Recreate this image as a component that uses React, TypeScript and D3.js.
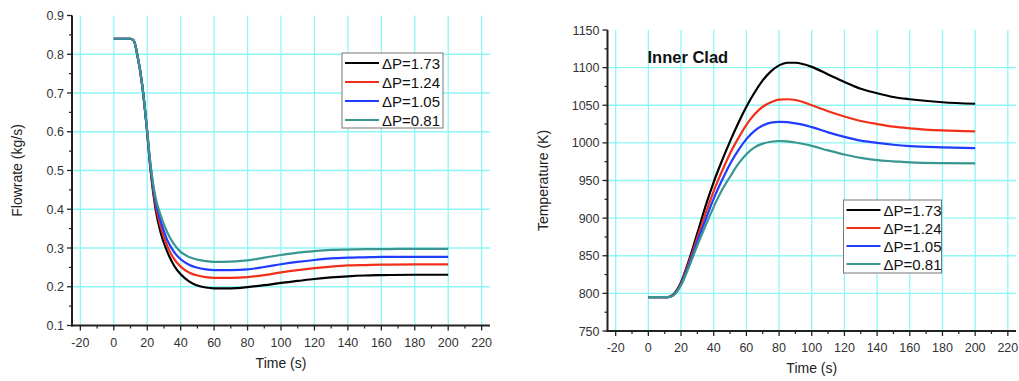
import React, { useEffect, useRef } from "react";
import * as d3 from "d3";

const seriesNames = ["ΔP=1.73", "ΔP=1.24", "ΔP=1.05", "ΔP=0.81"];
const seriesColors = ["#000000", "#f2301a", "#1f3cff", "#3a9690"];

// Flowrate chart (left)
const flowTime = [0, 10, 12, 14, 17, 19.5, 22, 25, 28, 32, 36, 40, 45, 50, 55, 60, 70, 80, 90, 100, 110, 120, 130, 140, 150, 160, 180, 200];
const flow173 = [0.84, 0.84, 0.835, 0.8, 0.72, 0.62, 0.5, 0.4, 0.34, 0.29, 0.255, 0.232, 0.214, 0.203, 0.198, 0.196, 0.196, 0.199, 0.204, 0.21, 0.215, 0.22, 0.224, 0.227, 0.229, 0.23, 0.231, 0.231];
const flow124 = [0.84, 0.84, 0.835, 0.8, 0.72, 0.62, 0.505, 0.41, 0.355, 0.305, 0.272, 0.252, 0.237, 0.229, 0.225, 0.223, 0.223, 0.225, 0.23, 0.237, 0.243, 0.248, 0.252, 0.255, 0.256, 0.257, 0.258, 0.258];
const flow105 = [0.84, 0.84, 0.835, 0.8, 0.72, 0.62, 0.51, 0.42, 0.37, 0.32, 0.29, 0.271, 0.257, 0.249, 0.245, 0.243, 0.243, 0.245, 0.251, 0.258, 0.264, 0.269, 0.273, 0.275, 0.276, 0.277, 0.277, 0.277];
const flow081 = [0.84, 0.84, 0.835, 0.8, 0.72, 0.625, 0.515, 0.43, 0.385, 0.34, 0.31, 0.29, 0.277, 0.27, 0.266, 0.264, 0.265, 0.268, 0.275, 0.282, 0.288, 0.292, 0.295, 0.296, 0.297, 0.297, 0.298, 0.298];

// Temperature chart (right)
const tempTime = [0, 12, 15, 20, 25, 30, 35, 40, 45, 50, 55, 60, 65, 70, 75, 80, 85, 90, 95, 100, 110, 120, 130, 140, 150, 160, 180, 200];
const temp173 = [795, 795, 798, 815, 845, 880, 916, 948, 976, 1002, 1026, 1048, 1067, 1083, 1095, 1103, 1106.5, 1106.5, 1104.5, 1101, 1091, 1081, 1072, 1066, 1061, 1058, 1054, 1052];
const temp124 = [795, 795, 797, 813, 842, 874, 906, 936, 962, 986, 1006, 1024, 1038, 1048, 1054, 1057.5, 1058, 1057, 1054, 1050, 1042, 1035, 1029, 1025, 1021.5, 1019.3, 1016.5, 1015.3];
const temp105 = [795, 795, 797, 812, 839, 869, 898, 926, 950, 972, 990, 1005, 1016, 1023, 1027, 1028, 1027.5, 1026, 1024, 1021, 1014, 1008, 1003, 1000, 997.5, 995.7, 994, 993];
const temp081 = [795, 795, 797, 811, 836, 864, 890, 915, 937, 955, 972, 985, 994, 999, 1001.5, 1002.5, 1002, 1000.5, 998.5, 996, 990, 984.5, 980, 977, 975.5, 974, 973, 972.7];

const xTicks = [-20, 0, 20, 40, 60, 80, 100, 120, 140, 160, 180, 200, 220];
const flowTicks = [0.1, 0.2, 0.3, 0.4, 0.5, 0.6, 0.7, 0.8, 0.9];
const tempTicks = [750, 800, 850, 900, 950, 1000, 1050, 1100, 1150];

type PanelCfg = {
  left: number; right: number; top: number; bottom: number;
  yDomain: [number, number]; yTicks: number[]; yMinorStep: number; yFmt: (v: number) => string;
  time: number[]; series: number[][]; yLabel: string; yLabelX: number; xLabelY: number;
  legend: { x: number; y: number; w: number; h: number; row: number };
  title?: string;
};

function drawPanel(svg: d3.Selection<SVGSVGElement, unknown, null, undefined>, c: PanelCfg) {
  const x = d3.scaleLinear().domain([-25, 225]).range([c.left, c.right]);
  const y = d3.scaleLinear().domain(c.yDomain).range([c.bottom, c.top]);
  const g = svg.append("g");
  const grid = "#8ff6f6";
  g.selectAll(null).data(xTicks).enter().append("line")
    .attr("x1", (d) => x(d)).attr("x2", (d) => x(d))
    .attr("y1", c.top).attr("y2", c.bottom)
    .attr("stroke", grid).attr("stroke-width", 1.3);
  g.selectAll(null).data(c.yTicks.slice(1, -1)).enter().append("line")
    .attr("x1", c.left).attr("x2", c.right)
    .attr("y1", (d) => y(d)).attr("y2", (d) => y(d))
    .attr("stroke", grid).attr("stroke-width", 1.3);

  const line = d3.line<[number, number]>().x((d) => x(d[0])).y((d) => y(d[1])).curve(d3.curveMonotoneX);
  c.series.forEach((s, i) => {
    g.append("path")
      .attr("d", line(c.time.map((t, k) => [t, s[k]] as [number, number])) as string)
      .attr("fill", "none").attr("stroke", seriesColors[i]).attr("stroke-width", 2.2);
  });

  const axisColor = "#222";
  g.append("line").attr("x1", c.left).attr("x2", c.left).attr("y1", c.top).attr("y2", c.bottom + 1)
    .attr("stroke", axisColor).attr("stroke-width", 2);
  g.append("line").attr("x1", c.left - 1).attr("x2", c.right).attr("y1", c.bottom).attr("y2", c.bottom)
    .attr("stroke", axisColor).attr("stroke-width", 2);

  g.selectAll(null).data(xTicks).enter().append("line")
    .attr("x1", (d) => x(d)).attr("x2", (d) => x(d))
    .attr("y1", c.bottom).attr("y2", c.bottom + 5).attr("stroke", axisColor).attr("stroke-width", 1.3);
  const xMinor = d3.range(-10, 230, 20);
  g.selectAll(null).data(xMinor).enter().append("line")
    .attr("x1", (d) => x(d)).attr("x2", (d) => x(d))
    .attr("y1", c.bottom).attr("y2", c.bottom + 3).attr("stroke", axisColor).attr("stroke-width", 1.2);
  g.selectAll(null).data(xTicks).enter().append("text")
    .attr("x", (d) => x(d)).attr("y", c.bottom + 21)
    .attr("text-anchor", "middle").attr("font-size", 12.5).attr("fill", "#333")
    .attr("font-family", "Liberation Sans, Arial, sans-serif")
    .text((d) => String(d));

  g.selectAll(null).data(c.yTicks).enter().append("line")
    .attr("x1", c.left - 5).attr("x2", c.left)
    .attr("y1", (d) => y(d)).attr("y2", (d) => y(d)).attr("stroke", axisColor).attr("stroke-width", 1.3);
  const yMinor = d3.range(c.yDomain[0] + c.yMinorStep, c.yDomain[1], c.yMinorStep * 2);
  g.selectAll(null).data(yMinor).enter().append("line")
    .attr("x1", c.left - 3).attr("x2", c.left)
    .attr("y1", (d) => y(d)).attr("y2", (d) => y(d)).attr("stroke", axisColor).attr("stroke-width", 1.2);
  g.selectAll(null).data(c.yTicks).enter().append("text")
    .attr("x", c.left - 8).attr("y", (d) => y(d) + 4.5)
    .attr("text-anchor", "end").attr("font-size", 12.5).attr("fill", "#333")
    .attr("font-family", "Liberation Sans, Arial, sans-serif")
    .text((d) => c.yFmt(d));

  g.append("text").attr("x", (c.left + c.right) / 2).attr("y", c.xLabelY)
    .attr("text-anchor", "middle").attr("font-size", 14).attr("fill", "#222")
    .attr("font-family", "Liberation Sans, Arial, sans-serif").text("Time (s)");
  const yc = (c.top + c.bottom) / 2;
  g.append("text").attr("transform", `translate(${c.yLabelX},${yc}) rotate(-90)`)
    .attr("text-anchor", "middle").attr("font-size", 14).attr("fill", "#222")
    .attr("font-family", "Liberation Sans, Arial, sans-serif").text(c.yLabel);

  if (c.title) {
    g.append("text").attr("x", c.left + 40).attr("y", 63)
      .attr("font-size", 16.5).attr("font-weight", "bold").attr("fill", "#111")
      .attr("font-family", "Liberation Sans, Arial, sans-serif").text(c.title);
  }

  const L = c.legend;
  g.append("rect").attr("x", L.x).attr("y", L.y).attr("width", L.w).attr("height", L.h)
    .attr("fill", "#fff").attr("stroke", "#777").attr("stroke-width", 1);
  seriesNames.forEach((n, i) => {
    const ry = L.y + 10 + i * L.row;
    g.append("line").attr("x1", L.x + 3).attr("x2", L.x + 37).attr("y1", ry).attr("y2", ry)
      .attr("stroke", seriesColors[i]).attr("stroke-width", 2.2);
    g.append("text").attr("x", L.x + 40).attr("y", ry + 5.5)
      .attr("font-size", 15).attr("fill", "#111")
      .attr("font-family", "Liberation Sans, Arial, sans-serif").text(n);
  });
}

export default function App() {
  const ref = useRef<SVGSVGElement>(null);
  useEffect(() => {
    const svg = d3.select(ref.current as SVGSVGElement);
    svg.selectAll("*").remove();
    drawPanel(svg, {
      left: 72, right: 490, top: 15.5, bottom: 325.5,
      yDomain: [0.1, 0.9], yTicks: flowTicks, yMinorStep: 0.05, yFmt: (v) => v.toFixed(1),
      time: flowTime, series: [flow173, flow124, flow105, flow081],
      yLabel: "Flowrate (kg/s)", yLabelX: 22, xLabelY: 368,
      legend: { x: 342, y: 53, w: 101, h: 75, row: 19 },
    });
    drawPanel(svg, {
      left: 607.5, right: 1016, top: 30, bottom: 331,
      yDomain: [750, 1150], yTicks: tempTicks, yMinorStep: 25, yFmt: (v) => String(v),
      time: tempTime, series: [temp173, temp124, temp105, temp081],
      yLabel: "Temperature (K)", yLabelX: 548, xLabelY: 373,
      legend: { x: 843.5, y: 200, w: 98, h: 73, row: 18 },
      title: "Inner Clad",
    });
  }, []);
  return (
    <svg ref={ref} width={1019} height={381}
      style={{ position: "absolute", left: 0, top: 0, background: "#fff" }} />
  );
}
